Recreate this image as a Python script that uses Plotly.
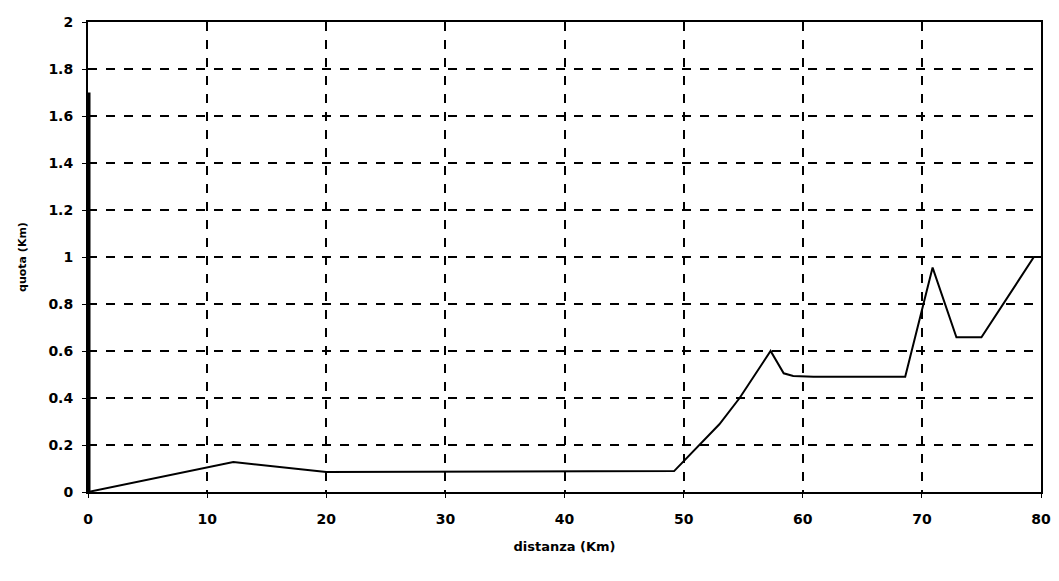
import plotly.graph_objects as go

# Profile data (distance km, elevation km)
distanza = [0, 10, 12.2, 20, 30, 40, 49.2, 53.0, 54.7, 57.3, 58.4, 59.2, 60.9, 68.6, 70.9, 72.9, 75.0, 79.4, 80]
quota = [0, 0.106, 0.128, 0.085, 0.087, 0.088, 0.089, 0.288, 0.40, 0.60, 0.505, 0.494, 0.49, 0.49, 0.955, 0.658, 0.658, 1.0, 1.0]

# thick bar along the left edge
bar_x = [0, 0]
bar_y = [0, 1.7]

x_ticks = [0, 10, 20, 30, 40, 50, 60, 70, 80]
y_ticks = [0, 0.2, 0.4, 0.6, 0.8, 1, 1.2, 1.4, 1.6, 1.8, 2]
y_labels = ["0", "0.2", "0.4", "0.6", "0.8", "1", "1.2", "1.4", "1.6", "1.8", "2"]

fig = go.Figure()
fig.add_trace(go.Scatter(x=bar_x, y=bar_y, mode="lines",
                         line=dict(color="black", width=5), hoverinfo="skip"))
fig.add_trace(go.Scatter(x=distanza, y=quota, mode="lines",
                         line=dict(color="black", width=2)))

font = dict(family="DejaVu Sans, sans-serif", size=14, color="black", weight="bold")

fig.update_layout(
    width=1043, height=565,
    margin=dict(l=80, r=10, t=14, b=81),
    paper_bgcolor="white", plot_bgcolor="white",
    showlegend=False,
    font=font,
    xaxis=dict(
        range=[0, 80], tickvals=x_ticks, ticktext=[str(v) for v in x_ticks],
        showgrid=True, gridcolor="black", gridwidth=1.5, griddash="dash",
        showline=True, linecolor="black", linewidth=2, mirror=True,
        ticks="outside", ticklen=4, tickcolor="black",
        ticklabelstandoff=9,
        zeroline=False, automargin=False,
        title=dict(text="distanza (Km)", standoff=16, font=dict(size=13)),
    ),
    yaxis=dict(
        range=[0, 2], tickvals=y_ticks, ticktext=y_labels,
        showgrid=True, gridcolor="black", gridwidth=1.5, griddash="dash",
        showline=True, linecolor="black", linewidth=2, mirror=True,
        ticks="outside", ticklen=4, tickcolor="black",
        ticklabelstandoff=6,
        zeroline=False, automargin=False,
        title=dict(text="quota (Km)", standoff=20, font=dict(size=11)),
    ),
)

fig.write_html("out.html")
